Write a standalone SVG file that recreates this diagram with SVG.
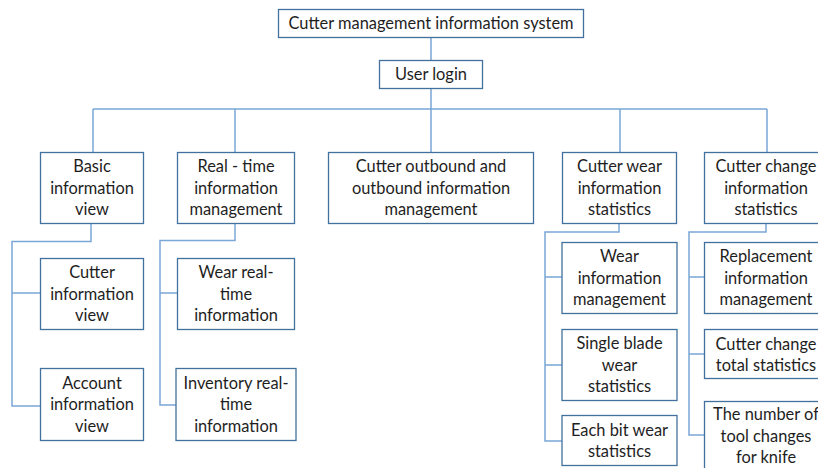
<svg xmlns="http://www.w3.org/2000/svg" width="818" height="468" viewBox="0 0 818 468">
<style>
.box{fill:#ffffff;stroke:#41719c;stroke-width:1.3}
.con{fill:none;stroke:#7aa7d8;stroke-width:1.5}
text{font-family:Lato,"Liberation Sans",sans-serif;font-size:16.4px;fill:#1e1e1e;text-anchor:middle}
</style>
<rect width="818" height="468" fill="#ffffff"/>
<g id="connectors">
<path class="con" d="M431,38V60M431,89V152M93,109H767M93,109V152M235,109V152M620,109V152M767,109V152"/>
<path class="con" d="M91,223V241.5H12V406H40M12,293H40"/>
<path class="con" d="M235,223V240.5H160V405H176M160,293H177"/>
<path class="con" d="M619,223V232H545V441H562M545,277H562M545,365H562"/>
<path class="con" d="M766,223V232H689V435H704M689,277H704M689,354H704"/>
</g>
<g id="title"><rect class="box" x="278.5" y="9.5" width="305" height="28"/><text x="431" y="29">Cutter management information system</text></g>
<g id="login"><rect class="box" x="379.5" y="60.5" width="103" height="28"/><text x="431" y="80">User login</text></g>
<g id="basic"><rect class="box" x="40.5" y="152.5" width="103" height="71"/><text x="92" y="172">Basic</text><text x="92" y="193.5">information</text><text x="92" y="215">view</text></g>
<g id="realtime"><rect class="box" x="177.5" y="152.5" width="117" height="71"/><text x="236" y="172">Real - time</text><text x="236" y="193.5">information</text><text x="236" y="215">management</text></g>
<g id="outbound"><rect class="box" x="328.5" y="152.5" width="205" height="71"/><text x="431" y="172">Cutter outbound and</text><text x="431" y="193.5">outbound information</text><text x="431" y="215">management</text></g>
<g id="wear"><rect class="box" x="562.5" y="152.5" width="114" height="71"/><text x="619.5" y="172">Cutter wear</text><text x="619.5" y="193.5">information</text><text x="619.5" y="215">statistics</text></g>
<g id="change"><rect class="box" x="704.5" y="152.5" width="124" height="71"/><text x="766" y="172">Cutter change</text><text x="766" y="193.5">information</text><text x="766" y="215">statistics</text></g>
<g id="cutterinfo"><rect class="box" x="40.5" y="258.5" width="103" height="71"/><text x="92" y="278">Cutter</text><text x="92" y="299.5">information</text><text x="92" y="321">view</text></g>
<g id="account"><rect class="box" x="40.5" y="368.5" width="103" height="72"/><text x="92" y="388.5">Account</text><text x="92" y="410">information</text><text x="92" y="431.5">view</text></g>
<g id="wearrt"><rect class="box" x="177.5" y="258.5" width="117" height="71"/><text x="236" y="278">Wear real-</text><text x="236" y="299.5">time</text><text x="236" y="321">information</text></g>
<g id="inventory"><rect class="box" x="176" y="368.5" width="120" height="72"/><text x="236" y="388.5">Inventory real-</text><text x="236" y="410">time</text><text x="236" y="431.5">information</text></g>
<g id="wearinfo"><rect class="box" x="562" y="242.5" width="115" height="71"/><text x="619.5" y="262">Wear</text><text x="619.5" y="283.5">information</text><text x="619.5" y="305">management</text></g>
<g id="singleblade"><rect class="box" x="562" y="329.5" width="115" height="71"/><text x="619.5" y="349">Single blade</text><text x="619.5" y="370.5">wear</text><text x="619.5" y="392">statistics</text></g>
<g id="eachbit"><rect class="box" x="562" y="415.5" width="115" height="50"/><text x="619.5" y="435.5">Each bit wear</text><text x="619.5" y="457">statistics</text></g>
<g id="replacement"><rect class="box" x="704.5" y="242.5" width="124" height="71"/><text x="766" y="262">Replacement</text><text x="766" y="283.5">information</text><text x="766" y="305">management</text></g>
<g id="changetotal"><rect class="box" x="704.5" y="329.5" width="124" height="49"/><text x="766" y="349.5">Cutter change</text><text x="766" y="370.5">total statistics</text></g>
<g id="numberchanges"><rect class="box" x="704.5" y="401.5" width="124" height="80"/><text x="766" y="420">The number of</text><text x="766" y="442">tool changes</text><text x="766" y="463">for knife</text></g>
</svg>
